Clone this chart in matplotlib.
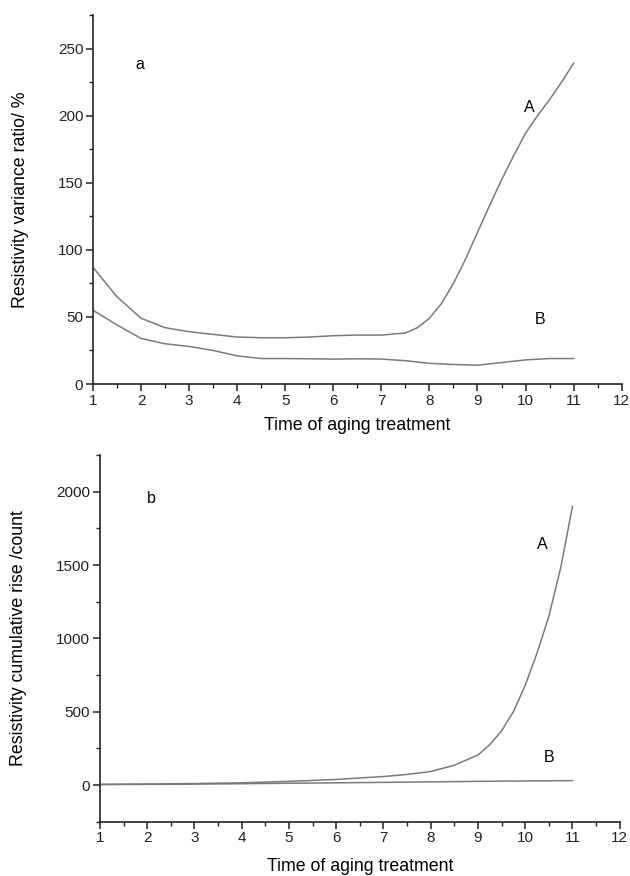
import matplotlib
matplotlib.use("Agg")
import matplotlib.pyplot as plt
from matplotlib.ticker import MultipleLocator

plt.rcParams['font.family'] = ['Liberation Sans', 'DejaVu Sans']

# Panel a: resistivity variance ratio (%)
xa_A = [1, 1.5, 2, 2.5, 3, 3.5, 4, 4.5, 5, 5.5, 6, 6.5, 7, 7.5, 7.75, 8, 8.25, 8.5, 8.75, 9, 9.25, 9.5, 9.75, 10, 10.25, 10.5, 10.75, 11]
ya_A = [87, 65, 49, 42, 39, 37, 35, 34.5, 34.5, 35, 36, 36.5, 36.5, 38, 42, 49, 60, 75, 93, 113, 133, 152, 170, 187, 200, 212, 225, 239]
xa_B = [1, 1.5, 2, 2.5, 3, 3.5, 4, 4.5, 5, 5.5, 6, 6.5, 7, 7.5, 8, 8.5, 9, 9.5, 10, 10.5, 11]
ya_B = [55, 44, 34, 30, 28, 25, 21, 19, 19, 18.8, 18.6, 18.8, 18.6, 17.4, 15.4, 14.6, 14, 16, 18, 19, 19]

# Panel b: resistivity cumulative rise (count)
xb_A = [1, 2, 3, 4, 5, 6, 7, 7.5, 8, 8.5, 9, 9.25, 9.5, 9.75, 10, 10.25, 10.5, 10.75, 11]
yb_A = [5, 7, 10, 15, 25, 38, 58, 72, 92, 135, 205, 275, 370, 500, 680, 900, 1150, 1480, 1900]
xb_B = [1, 3, 5, 7, 9, 11]
yb_B = [3, 6, 12, 18, 25, 30]

x_ticks = list(range(1, 13))

line_color = '#7a7a7a'
fig = plt.figure(figsize=(6.3, 8.76), dpi=100)
ax1 = fig.add_axes([0.1476, 0.5616, 0.8392, 0.4213])
ax2 = fig.add_axes([0.1587, 0.062, 0.8250, 0.4186])

def style(ax):
    for s in ['top', 'right']:
        ax.spines[s].set_visible(False)
    for s in ['left', 'bottom']:
        ax.spines[s].set_linewidth(1.2)
        ax.spines[s].set_color('#222222')
    ax.tick_params(which='major', direction='out', length=5, width=1.1, labelsize=11, colors='#222222', pad=2)
    ax.tick_params(which='minor', direction='out', length=3, width=1.0, colors='#222222')
    ax.set_xlim(1, 12)
    ax.set_xticks(x_ticks)
    ax.xaxis.set_minor_locator(MultipleLocator(0.5))

ax1.plot(xa_A, ya_A, color=line_color, lw=1.1)
ax1.plot(xa_B, ya_B, color=line_color, lw=1.1)
style(ax1)
ax1.set_ylim(0, 275)
ax1.yaxis.set_major_locator(MultipleLocator(50))
ax1.yaxis.set_minor_locator(MultipleLocator(25))
ax1.set_xlabel('Time of aging treatment', fontsize=12.8)
ax1.set_ylabel('Resistivity variance ratio/ %', fontsize=12.8)
ax1.xaxis.set_label_coords(0.5, -0.09)
ax1.yaxis.set_label_coords(-0.121, 0.5)
ax1.text(1.98, 238, 'a', fontsize=11.5, ha='center', va='center')
ax1.text(10.08, 206, 'A', fontsize=11.5, ha='center', va='center')
ax1.text(10.3, 48, 'B', fontsize=11.5, ha='center', va='center')

ax2.plot(xb_A, yb_A, color=line_color, lw=1.1)
ax2.plot(xb_B, yb_B, color=line_color, lw=1.1)
style(ax2)
ax2.set_ylim(-250, 2250)
ax2.yaxis.set_major_locator(MultipleLocator(500))
ax2.yaxis.set_minor_locator(MultipleLocator(250))
ax2.set_xlabel('Time of aging treatment', fontsize=12.8)
ax2.set_ylabel('Resistivity cumulative rise /count', fontsize=12.8)
ax2.xaxis.set_label_coords(0.5, -0.1)
ax2.yaxis.set_label_coords(-0.14, 0.5)
ax2.text(2.09, 1952, 'b', fontsize=11.5, ha='center', va='center')
ax2.text(10.37, 1637, 'A', fontsize=11.5, ha='center', va='center')
ax2.text(10.5, 187, 'B', fontsize=11.5, ha='center', va='center')

fig.savefig('out.png', dpi=100)
